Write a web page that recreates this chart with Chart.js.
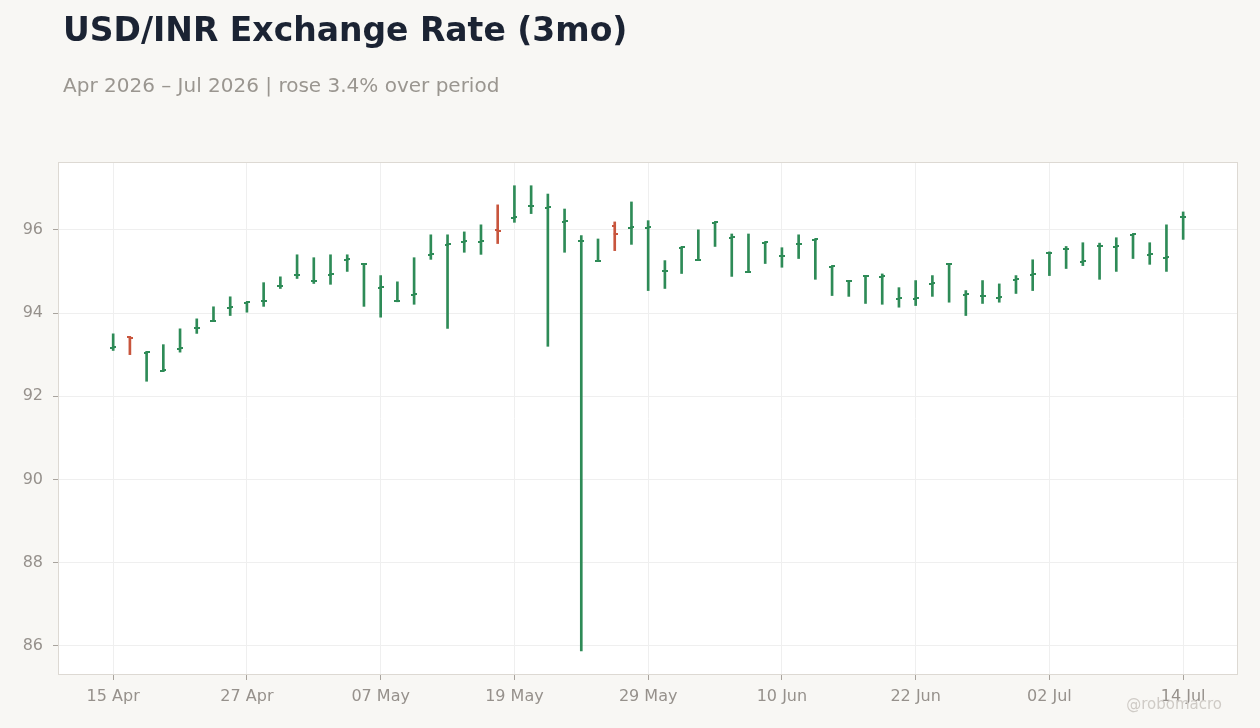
<!DOCTYPE html>
<html>
<head>
<meta charset="utf-8">
<script src="https://cdn.jsdelivr.net/npm/chart.js@4.4.1/dist/chart.umd.min.js"></script>
<style>
html, body { margin: 0; padding: 0; background: #f8f7f4; }
#wrap { position: relative; width: 1260px; height: 728px; overflow: hidden; font-family: "DejaVu Sans", sans-serif; }
#title { position: absolute; left: 63px; top: 13px; font-size: 33px; line-height: 33px; font-weight: bold; color: #1b2333; white-space: nowrap; }
#subtitle { position: absolute; left: 63px; top: 75px; font-size: 20px; line-height: 20px; color: #9a9690; white-space: nowrap; }
#credit { position: absolute; right: 38px; top: 697px; font-size: 15px; line-height: 15px; color: #cfcbc6; white-space: nowrap; }
canvas { position: absolute; left: 0; top: 0; }
</style>
</head>
<body>
<div id="wrap">
  <canvas id="myChart" width="1260" height="728"></canvas>
  <div id="title">USD/INR Exchange Rate (3mo)</div>
  <div id="subtitle">Apr 2026 – Jul 2026 | rose 3.4% over period</div>
  <div id="credit">@robomacro</div>
</div>
<script>
// trading days (one bar each)
var days = [
  '15 Apr','16 Apr','17 Apr','20 Apr','21 Apr','22 Apr','23 Apr','24 Apr','27 Apr','28 Apr','29 Apr','30 Apr',
  '01 May','04 May','05 May','06 May','07 May','08 May','11 May','12 May','13 May','14 May','15 May','18 May',
  '19 May','20 May','21 May','22 May','25 May','26 May','27 May','28 May','29 May',
  '01 Jun','02 Jun','03 Jun','04 Jun','05 Jun','08 Jun','09 Jun','10 Jun','11 Jun','12 Jun','15 Jun','16 Jun',
  '17 Jun','18 Jun','19 Jun','22 Jun','23 Jun','24 Jun','25 Jun','26 Jun','29 Jun','30 Jun',
  '01 Jul','02 Jul','03 Jul','06 Jul','07 Jul','08 Jul','09 Jul','10 Jul','13 Jul','14 Jul'
];

var opens = [
  93.17, 93.42, 93.05, 92.61, 93.14, 93.63, 93.81, 94.13, 94.25, 94.28, 94.65, 94.91, 94.77, 94.92, 95.28, 95.18,
  94.61, 94.28, 94.44, 95.40, 95.64, 95.71, 95.71, 95.99, 96.29, 96.57, 96.53, 96.19, 95.73, 95.25, 96.08, 96.05,
  96.05, 95.01, 95.57, 95.28, 96.17, 95.81, 94.98, 95.69, 95.37, 95.66, 95.76, 95.11, 94.76, 94.89, 94.87, 94.34,
  94.34, 94.70, 95.18, 94.44, 94.41, 94.37, 94.80, 94.92, 95.44, 95.54, 95.23, 95.61, 95.59, 95.88, 95.40, 95.33,
  96.31
];
var highs = [
  93.50, 93.43, 93.07, 93.24, 93.62, 93.86, 94.15, 94.39, 94.26, 94.73, 94.87, 95.40, 95.33, 95.40, 95.40, 95.19,
  94.90, 94.75, 95.33, 95.88, 95.88, 95.95, 96.12, 96.60, 97.06, 97.06, 96.86, 96.50, 95.86, 95.78, 96.19, 96.67,
  96.22, 95.26, 95.58, 96.00, 96.18, 95.90, 95.90, 95.70, 95.57, 95.88, 95.77, 95.12, 94.77, 94.90, 94.94, 94.61,
  94.78, 94.90, 95.19, 94.54, 94.78, 94.70, 94.90, 95.28, 95.47, 95.60, 95.69, 95.68, 95.81, 95.89, 95.69, 96.12,
  96.43
];
var lows = [
  93.10, 93.00, 92.36, 92.60, 93.06, 93.51, 93.80, 93.94, 94.02, 94.16, 94.59, 94.83, 94.71, 94.69, 95.00, 94.16,
  93.90, 94.27, 94.21, 95.29, 93.63, 95.46, 95.41, 95.67, 96.18, 96.39, 93.20, 95.46, 85.88, 95.24, 95.50, 95.65,
  94.54, 94.59, 94.95, 95.27, 95.60, 94.88, 94.97, 95.19, 95.10, 95.31, 94.81, 94.42, 94.40, 94.23, 94.21, 94.14,
  94.18, 94.40, 94.26, 93.94, 94.23, 94.26, 94.47, 94.54, 94.90, 95.07, 95.14, 94.81, 95.00, 95.31, 95.17, 95.00,
  95.77
];
var closes = [
  93.18, 93.40, 93.06, 92.62, 93.15, 93.64, 93.82, 94.14, 94.26, 94.29, 94.66, 94.92, 94.78, 94.93, 95.29, 95.19,
  94.62, 94.28, 94.45, 95.41, 95.65, 95.72, 95.72, 95.97, 96.30, 96.58, 96.54, 96.20, 95.74, 95.26, 95.91, 96.06,
  96.06, 95.02, 95.58, 95.28, 96.18, 95.82, 94.98, 95.70, 95.38, 95.67, 95.77, 95.12, 94.77, 94.90, 94.88, 94.35,
  94.35, 94.71, 95.19, 94.45, 94.42, 94.38, 94.81, 94.93, 95.45, 95.55, 95.24, 95.62, 95.60, 95.89, 95.41, 95.34,
  96.32
];

var xTicks = [0, 8, 16, 24, 32, 40, 48, 56, 64];
var yTicks = [86, 88, 90, 92, 94, 96];

var upColor = '#2e8b57';
var downColor = '#c8553d';
var labelColor = '#96918c';

// little canvases used as point styles for the open (left) and close (right) ticks
function tickMark(color, side) {
  var c = document.createElement('canvas');
  c.width = 6; c.height = 2;
  var g = c.getContext('2d');
  g.fillStyle = color;
  g.fillRect(side == 'open' ? 0 : 2, 0, 4, 2);
  return c;
}
var marks = {
  open: { up: tickMark(upColor, 'open'), down: tickMark(downColor, 'open') },
  close: { up: tickMark(upColor, 'close'), down: tickMark(downColor, 'close') }
};
function isUp(i) { return closes[i] >= opens[i]; }

var plotBg = {
  id: 'plotBg',
  beforeDraw: function(chart) {
    var a = chart.chartArea, c = chart.ctx;
    c.save();
    c.fillStyle = '#ffffff';
    c.fillRect(a.left, a.top, a.right - a.left, a.bottom - a.top);
    c.restore();
  },
  beforeDatasetsDraw: function(chart) {
    var a = chart.chartArea, c = chart.ctx;
    c.save();
    c.strokeStyle = '#ddd9d3';
    c.lineWidth = 1;
    c.strokeRect(a.left + 0.5, a.top + 0.5, a.right - a.left - 1, a.bottom - a.top - 1);
    c.restore();
  }
};

var tickFont = { family: '"DejaVu Sans", sans-serif', size: 16 };

var element = document.getElementById('myChart').getContext('2d');
var chart = new Chart(element, {
  data: {
    datasets: [
      {
        type: 'bar',
        data: days.map(function(d, i) { return { x: i, y: [lows[i], highs[i]] }; }),
        backgroundColor: days.map(function(d, i) { return isUp(i) ? upColor : downColor; }),
        barThickness: 2,
        borderWidth: 0,
        grouped: false,
        order: 2
      },
      {
        type: 'line',
        data: opens.map(function(v, i) { return { x: i, y: v }; }),
        showLine: false,
        pointRadius: 3,
        pointStyle: function(ctx) { return marks.open[isUp(ctx.dataIndex) ? 'up' : 'down']; },
        order: 1
      },
      {
        type: 'line',
        data: closes.map(function(v, i) { return { x: i, y: v }; }),
        showLine: false,
        pointRadius: 3,
        pointStyle: function(ctx) { return marks.close[isUp(ctx.dataIndex) ? 'up' : 'down']; },
        order: 1
      }
    ]
  },
  options: {
    responsive: false,
    animation: false,
    events: [],
    layout: { padding: { top: 162, right: 22, bottom: 0, left: 0 } },
    plugins: { legend: { display: false }, tooltip: { enabled: false }, title: { display: false } },
    scales: {
      x: {
        type: 'linear',
        offset: false,
        min: -3.3,
        max: 67.28,
        afterBuildTicks: function(s) { s.ticks = xTicks.map(function(v) { return { value: v }; }); },
        afterFit: function(s) { s.height = 53; },
        ticks: {
          callback: function(v) { return days[v]; },
          color: labelColor,
          font: tickFont,
          padding: 7,
          maxRotation: 0,
          autoSkip: false
        },
        grid: { offset: false, color: '#efefef', tickColor: '#a8a39d', tickLength: 5 },
        border: { display: false }
      },
      y: {
        min: 85.3,
        max: 97.63,
        afterBuildTicks: function(s) { s.ticks = yTicks.map(function(v) { return { value: v }; }); },
        afterFit: function(s) { s.width = 58; },
        ticks: {
          callback: function(v) { return String(v); },
          color: labelColor,
          font: tickFont,
          padding: 10
        },
        grid: { color: '#efefef', tickColor: '#a8a39d', tickLength: 5 },
        border: { display: false }
      }
    }
  },
  plugins: [plotBg]
});
</script>
</body>
</html>
